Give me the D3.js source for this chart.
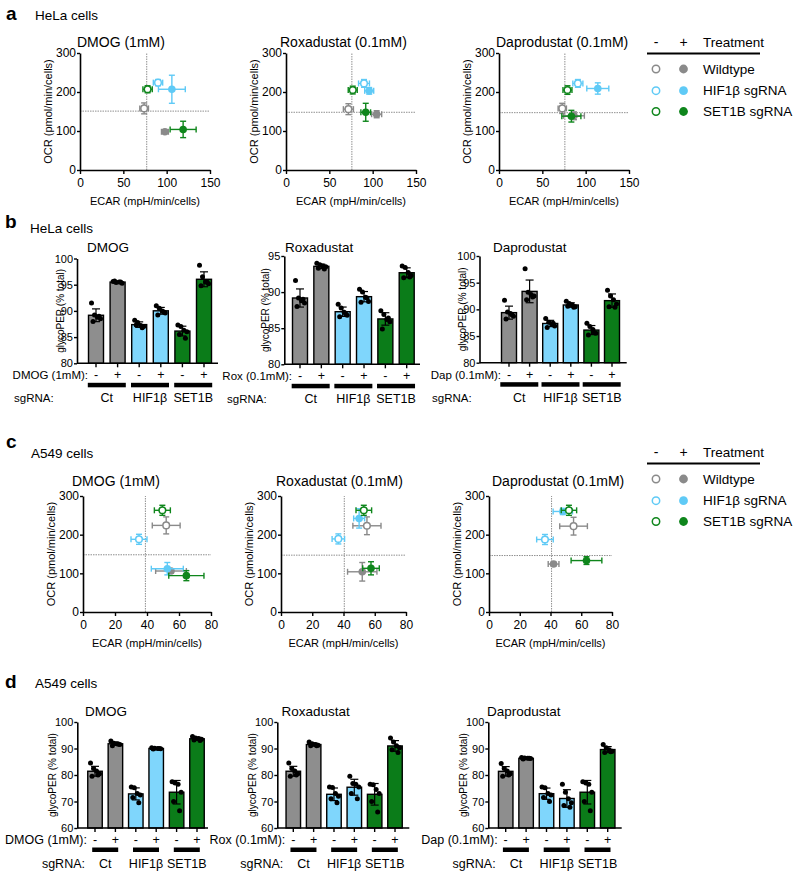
<!DOCTYPE html>
<html><head><meta charset="utf-8">
<script src="https://cdn.jsdelivr.net/npm/d3@7"></script>
<style>
body{margin:0;background:#fff;}
svg{font-family:"Liberation Sans",Arial,sans-serif;}
</style></head><body>
<svg id="fig" width="800" height="887"></svg>
<script>
// ================= DATA =================
// order of conditions in every array: WT -, WT +, HIF1β -, HIF1β +, SET1B -, SET1B +
const conditions = ["Wildtype -","Wildtype +","HIF1β -","HIF1β +","SET1B -","SET1B +"];
const legendLabels = ["Wildtype","HIF1β sgRNA","SET1B sgRNA"];
const scatterTitles = ["DMOG (1mM)","Roxadustat (0.1mM)","Daprodustat (0.1mM)"];
const barTitles = ["DMOG","Roxadustat","Daprodustat"];
const treatLabels = ["DMOG (1mM):","Rox (0.1mM):","Dap (0.1mM):"];
const sgRNALabels = ["Ct","HIF1β","SET1B"];
const signs = ["-","+","-","+","-","+"];
const ocrTicks = [0,100,200,300];
const helaEcarTicks = [0,50,100,150];
const a549EcarTicks = [0,20,40,60,80];

// ---- panel a: HeLa OCR vs ECAR ----
const aDMOG_ecar = [74, 98, 90, 106, 78, 119];
const aDMOG_ecarErr = [5, 4, 5.4, 15.5, 5.4, 15];
const aDMOG_ocr = [158, 98, 224, 207, 207, 104];
const aDMOG_ocrErr = [14, 4, 8, 36, 9, 21];
const aDMOG_ref = [77, 151];

const aRox_ecar = [72, 104.6, 90, 96, 77, 92];
const aRox_ecarErr = [5.8, 5.8, 6.3, 5.2, 5.2, 5.6];
const aRox_ocr = [156, 143, 222, 203, 205, 148];
const aRox_ocrErr = [14, 9, 10, 8.5, 10, 23];
const aRox_ref = [76, 148];

const aDap_ecar = [73, 86.5, 91, 114, 79, 83.5];
const aDap_ecarErr = [4.8, 12, 5.8, 12.7, 5.2, 11];
const aDap_ocr = [158, 139, 222, 209, 205, 138];
const aDap_ocrErr = [13, 10, 10, 14.5, 11, 15];
const aDap_ref = [76, 147];

// ---- panel c: A549 OCR vs ECAR ----
const cDMOG_ecar = [52, 55, 35, 52.7, 49.6, 64.6];
const cDMOG_ecarErr = [8.7, 9.6, 5, 10, 5, 11];
const cDMOG_ocr = [224, 106, 188, 112, 263, 94];
const cDMOG_ocrErr = [22, 5, 13, 16, 13, 13];
const cDMOG_ref = [39, 148];

const cRox_ecar = [55, 52, 36.7, 50, 53, 57.6];
const cRox_ecarErr = [9, 9.4, 4, 3.5, 5, 5.3];
const cRox_ocr = [223, 104, 189, 242, 263, 113];
const cRox_ocrErr = [23, 24, 13, 25, 13, 17];
const cRox_ref = [40.5, 147];

const cDap_ecar = [55, 42, 36.4, 48, 52, 63.4];
const cDap_ecarErr = [9, 3.5, 5.4, 6.3, 5, 10];
const cDap_ocr = [222, 124, 187.5, 260, 263, 133];
const cDap_ocrErr = [23, 5, 13, 8, 13, 10];
const cDap_ref = [40.7, 146];

// ---- panel b: HeLa glycoPER (% total), replicate dots per condition ----
const bDMOG_dots = [
  [91.5, 89.2, 88.8, 88.5, 88.0, 89.0],
  [95.6, 95.4, 95.5, 95.3, 95.7, 95.5],
  [88.2, 87.8, 87.2, 87.0, 87.3, 86.8],
  [91.0, 90.5, 90.0, 89.6, 89.2, 89.8],
  [87.3, 87.0, 86.3, 86.0, 85.5, 84.8],
  [98.7, 96.5, 95.5, 95.2, 94.8, 95.5]];
const bRox_dots = [
  [91.6, 89.2, 88.8, 88.5, 88.0, 89.0],
  [94.0, 93.8, 93.6, 93.5, 93.3, 93.2],
  [88.3, 87.8, 87.2, 86.8, 86.6, 87.0],
  [90.4, 90.0, 89.3, 88.7, 88.6, 89.2],
  [87.4, 86.9, 86.2, 85.9, 84.9, 86.4],
  [93.6, 93.4, 92.7, 92.3, 92.0, 92.1]];
const bDap_dots = [
  [91.7, 89.5, 89.2, 88.7, 88.2, 89.0],
  [97.6, 93.2, 92.8, 92.5, 91.8, 92.3],
  [88.3, 87.6, 87.3, 86.9, 86.6, 87.4],
  [91.5, 91.1, 90.8, 90.5, 90.6, 90.4],
  [87.4, 86.8, 86.2, 85.5, 85.2, 85.6],
  [93.6, 92.5, 91.8, 91.0, 90.5, 90.4]];
const bTicks100 = [80,85,90,95,100];
const bTicks95 = [80,85,90,95];

// ---- panel d: A549 glycoPER (% total) ----
const dDMOG_dots = [
  [84.5, 82.5, 81.5, 80.5, 79.5, 80.0],
  [92.8, 92.0, 91.8, 91.5, 91.0, 91.6],
  [75.5, 75.2, 73.0, 72.5, 71.5, 69.5],
  [90.3, 90.1, 90.0, 89.9, 89.8, 90.0],
  [77.5, 77.0, 76.5, 73.5, 70.0, 66.5],
  [94.5, 94.0, 93.8, 93.5, 93.2, 93.0]];
const dRox_dots = [
  [84.5, 82.5, 81.5, 80.5, 79.5, 80.0],
  [92.5, 91.8, 91.5, 91.2, 91.0, 91.0],
  [75.5, 75.3, 73.0, 72.0, 71.0, 69.5],
  [79.5, 76.8, 76.5, 75.5, 73.0, 71.0],
  [76.5, 76.3, 74.5, 73.0, 70.0, 66.0],
  [94.0, 92.5, 91.0, 90.3, 89.5, 88.5]];
const dDap_dots = [
  [84.3, 82.5, 81.5, 80.5, 79.5, 80.0],
  [86.6, 86.4, 86.3, 86.2, 86.0, 86.3],
  [75.5, 75.2, 73.0, 72.5, 71.5, 70.0],
  [76.5, 73.5, 71.0, 69.5, 68.5, 67.8],
  [77.5, 77.0, 76.5, 73.5, 70.0, 66.5],
  [91.5, 90.3, 89.5, 89.0, 88.5, 88.8]];
const dTicks = [60,70,80,90,100];

// ================= STYLE =================
const pointColors = ["#8a8a8a","#8a8a8a","#5fcaf6","#5fcaf6","#0f861c","#0f861c"];
const barColors = ["#8e8e8e","#8e8e8e","#7fd6fc","#7fd6fc","#0b7c19","#0b7c19"];
const filled = [false,true,false,true,false,true];
const FONT = '"Liberation Sans", Arial, sans-serif';

const svg = d3.select("#fig");

function txt(g, x, y, s, size, anchor="start", weight="normal", rot=0) {
  const t = g.append("text").attr("x", x).attr("y", y)
    .attr("font-size", size).attr("font-weight", weight)
    .attr("text-anchor", anchor).attr("dominant-baseline", "central")
    .attr("fill", "#000").text(s);
  if (rot) t.attr("transform", `rotate(${rot},${x},${y})`);
  return t;
}

function styleAxis(ax, fs) {
  ax.select(".domain").attr("stroke", "#000").attr("stroke-width", 1.6);
  ax.selectAll(".tick line").attr("stroke", "#000").attr("stroke-width", 1.4);
  ax.selectAll(".tick text").attr("font-size", fs).attr("font-family", FONT).attr("fill", "#000");
}

// ---------- scatter ----------
function scatter(o) {
  const g = svg.append("g");
  const x = d3.scaleLinear().domain([0, o.xMax]).range([o.x0, o.x1]);
  const y = d3.scaleLinear().domain([0, 300]).range([o.yb, o.yt]);
  // reference lines
  g.append("line").attr("x1", x(o.ref[0])).attr("x2", x(o.ref[0]))
    .attr("y1", y(0)).attr("y2", y(300))
    .attr("stroke", "#909090").attr("stroke-width", 1).attr("stroke-dasharray", "1.5,1");
  g.append("line").attr("x1", x(0)).attr("x2", x(o.xMax))
    .attr("y1", y(o.ref[1])).attr("y2", y(o.ref[1]))
    .attr("stroke", "#909090").attr("stroke-width", 1).attr("stroke-dasharray", "1.5,1");
  const ax = g.append("g").attr("transform", `translate(0,${o.yb})`)
    .call(d3.axisBottom(x).tickValues(o.xTicks).tickSize(4).tickSizeOuter(0).tickPadding(4));
  styleAxis(ax, 12);
  const ay = g.append("g").attr("transform", `translate(${o.x0},0)`)
    .call(d3.axisLeft(y).tickValues(ocrTicks).tickSize(3).tickSizeOuter(0).tickPadding(1));
  styleAxis(ay, 12);
  txt(g, o.titleX, o.titleY, o.title, 14);
  txt(g, (o.x0 + o.x1) / 2, o.yb + 31, "ECAR (mpH/min/cells)", 11, "middle");
  txt(g, o.x0 - 32, (o.yt + o.yb) / 2, "OCR (pmol/min/cells)", 11, "middle", "normal", -90);
  const cap = 3;
  d3.range(6).forEach(i => {
    const c = pointColors[i];
    const cx = x(o.ecar[i]), cy = y(o.ocr[i]);
    const xl = x(o.ecar[i] - o.ecarErr[i]), xr = x(o.ecar[i] + o.ecarErr[i]);
    const yt = y(o.ocr[i] + o.ocrErr[i]), yb = y(o.ocr[i] - o.ocrErr[i]);
    const eg = g.append("g").attr("stroke", c).attr("stroke-width", 1.4).attr("fill", "none");
    eg.append("line").attr("x1", xl).attr("x2", xr).attr("y1", cy).attr("y2", cy);
    eg.append("line").attr("x1", xl).attr("x2", xl).attr("y1", cy - cap).attr("y2", cy + cap);
    eg.append("line").attr("x1", xr).attr("x2", xr).attr("y1", cy - cap).attr("y2", cy + cap);
    eg.append("line").attr("x1", cx).attr("x2", cx).attr("y1", yt).attr("y2", yb);
    eg.append("line").attr("x1", cx - cap).attr("x2", cx + cap).attr("y1", yt).attr("y2", yt);
    eg.append("line").attr("x1", cx - cap).attr("x2", cx + cap).attr("y1", yb).attr("y2", yb);
    g.append("circle").attr("cx", cx).attr("cy", cy).attr("r", filled[i] ? 3.8 : 3.3)
      .attr("fill", filled[i] ? c : "#fff").attr("stroke", c).attr("stroke-width", filled[i] ? 0 : 1.5);
  });
}

// ---------- legend ----------
function legend(yh) {
  const g = svg.append("g");
  txt(g, 656, yh, "-", 14, "middle");
  txt(g, 683.5, yh, "+", 14, "middle");
  txt(g, 703, yh, "Treatment", 13.5);
  g.append("line").attr("x1", 647).attr("x2", 760).attr("y1", yh + 11.5).attr("y2", yh + 11.5)
    .attr("stroke", "#000").attr("stroke-width", 2);
  const rows = [yh + 27, yh + 48.7, yh + 69.5];
  legendLabels.forEach((lab, k) => {
    const c = pointColors[2 * k];
    g.append("circle").attr("cx", 656).attr("cy", rows[k]).attr("r", 3.7)
      .attr("fill", "#fff").attr("stroke", c).attr("stroke-width", 1.5);
    g.append("circle").attr("cx", 683.5).attr("cy", rows[k]).attr("r", 4.4).attr("fill", c);
    txt(g, 703, rows[k], lab, 13.5);
  });
}

// ---------- bars ----------
function bars(o) {
  const g = svg.append("g");
  const y = d3.scaleLinear().domain([o.yMin, o.yMax]).range([o.yb, o.yt]);
  const x = d3.scaleLinear().domain([0, 5]).range([o.first, o.last]);
  const bw = o.bw;
  const offs = [-4.5, -1.5, 1.5, 4.5, -3, 3];
  o.dots.forEach((vals, i) => {
    const m = d3.mean(vals), sd = d3.deviation(vals);
    g.append("rect").attr("x", x(i) - bw / 2).attr("y", y(m))
      .attr("width", bw).attr("height", o.yb - y(m))
      .attr("fill", barColors[i]).attr("stroke", "#000").attr("stroke-width", 1.4);
    const eg = g.append("g").attr("stroke", "#000").attr("stroke-width", 1.2);
    eg.append("line").attr("x1", x(i)).attr("x2", x(i)).attr("y1", y(m + sd)).attr("y2", y(m - sd));
    eg.append("line").attr("x1", x(i) - 4).attr("x2", x(i) + 4).attr("y1", y(m + sd)).attr("y2", y(m + sd));
    eg.append("line").attr("x1", x(i) - 4).attr("x2", x(i) + 4).attr("y1", y(m - sd)).attr("y2", y(m - sd));
    vals.forEach((v, j) => {
      g.append("circle").attr("cx", x(i) + offs[j]).attr("cy", y(v)).attr("r", 2.5).attr("fill", "#000");
    });
  });
  const ay = g.append("g").attr("transform", `translate(${o.x0},0)`)
    .call(d3.axisLeft(y).tickValues(o.ticks).tickSize(3).tickSizeOuter(0).tickPadding(1));
  styleAxis(ay, 11);
  g.append("line").attr("x1", o.x0).attr("x2", o.xEnd).attr("y1", o.yb).attr("y2", o.yb)
    .attr("stroke", "#000").attr("stroke-width", 1.6);
  d3.range(6).forEach(i => {
    g.append("line").attr("x1", x(i)).attr("x2", x(i)).attr("y1", o.yb).attr("y2", o.yb + 4)
      .attr("stroke", "#000").attr("stroke-width", 1.4);
    txt(g, x(i), o.yb + 12, signs[i], 12.5, "middle");
  });
  txt(g, o.titleX, o.titleY, o.title, 13.5);
  txt(g, o.ylabX, (o.yt + o.yb) / 2, "glycoPER (% total)", 10, "middle", "normal", -90);
  txt(g, o.first - 8, o.yb + 12, o.treat, o.rowFs, "end");
  if (o.sgStart != null) txt(g, o.sgStart, o.yb + 35, "sgRNA:", o.rowFs, "start");
  else txt(g, o.first - 10, o.yb + 36, "sgRNA:", o.rowFs, "end");
  [0, 1, 2].forEach(k => {
    const cx = (x(2 * k) + x(2 * k + 1)) / 2;
    g.append("rect").attr("x", cx - o.pairW / 2).attr("y", o.yb + 19.5).attr("width", o.pairW).attr("height", 4.5).attr("fill", "#000");
    txt(g, cx, o.yb + (o.sgStart != null ? 35 : 36), sgRNALabels[k], 12.5, "middle");
  });
}

// ================= LAYOUT =================
txt(svg, 6, 13, "a", 19, "start", "bold");
txt(svg, 35, 15, "HeLa cells", 13.5);
txt(svg, 5, 221, "b", 19, "start", "bold");
txt(svg, 30, 228, "HeLa cells", 13.5);
txt(svg, 6, 441, "c", 19, "start", "bold");
txt(svg, 31, 453, "A549 cells", 13.5);
txt(svg, 5, 681, "d", 19, "start", "bold");
txt(svg, 35, 683, "A549 cells", 13.5);

// panel a
scatter({x0: 80, x1: 210, yt: 53, yb: 170, xMax: 150, xTicks: helaEcarTicks, ecar: aDMOG_ecar, ecarErr: aDMOG_ecarErr, ocr: aDMOG_ocr, ocrErr: aDMOG_ocrErr, ref: aDMOG_ref, title: scatterTitles[0], titleX: 77, titleY: 42});
scatter({x0: 286, x1: 416, yt: 53, yb: 170, xMax: 150, xTicks: helaEcarTicks, ecar: aRox_ecar, ecarErr: aRox_ecarErr, ocr: aRox_ocr, ocrErr: aRox_ocrErr, ref: aRox_ref, title: scatterTitles[1], titleX: 280, titleY: 42});
scatter({x0: 499, x1: 629, yt: 53, yb: 170, xMax: 150, xTicks: helaEcarTicks, ecar: aDap_ecar, ecarErr: aDap_ecarErr, ocr: aDap_ocr, ocrErr: aDap_ocrErr, ref: aDap_ref, title: scatterTitles[2], titleX: 496, titleY: 42});
legend(42);

// panel b
bars({x0: 77, xEnd: 218, yt: 258.5, yb: 363.3, yMin: 80, yMax: 100, ticks: bTicks100, first: 96, last: 204, bw: 15, pairW: 38, dots: bDMOG_dots, title: barTitles[0], titleX: 87, titleY: 247, ylabX: 60.3, treat: treatLabels[0], rowFs: 11.5, sgStart: 14});
bars({x0: 284.3, xEnd: 420, yt: 256, yb: 364.3, yMin: 80, yMax: 95, ticks: bTicks95, first: 300, last: 406.7, bw: 15, pairW: 38, dots: bRox_dots, title: barTitles[1], titleX: 285, titleY: 247, ylabX: 266, treat: treatLabels[1], rowFs: 11.5, sgStart: 227});
bars({x0: 479.5, xEnd: 626.7, yt: 256, yb: 362.7, yMin: 80, yMax: 100, ticks: bTicks100, first: 509, last: 612, bw: 15, pairW: 38, dots: bDap_dots, title: barTitles[2], titleX: 493, titleY: 247, ylabX: 462.5, treat: treatLabels[2], rowFs: 11.5, sgStart: 432});

// panel c
scatter({x0: 83, x1: 211, yt: 496, yb: 612, xMax: 80, xTicks: a549EcarTicks, ecar: cDMOG_ecar, ecarErr: cDMOG_ecarErr, ocr: cDMOG_ocr, ocrErr: cDMOG_ocrErr, ref: cDMOG_ref, title: scatterTitles[0], titleX: 72, titleY: 481});
scatter({x0: 281, x1: 406, yt: 496, yb: 612, xMax: 80, xTicks: a549EcarTicks, ecar: cRox_ecar, ecarErr: cRox_ecarErr, ocr: cRox_ocr, ocrErr: cRox_ocrErr, ref: cRox_ref, title: scatterTitles[1], titleX: 276, titleY: 481});
scatter({x0: 489, x1: 612, yt: 496, yb: 612, xMax: 80, xTicks: a549EcarTicks, ecar: cDap_ecar, ecarErr: cDap_ecarErr, ocr: cDap_ocr, ocrErr: cDap_ocrErr, ref: cDap_ref, title: scatterTitles[2], titleX: 492, titleY: 481});
legend(452);

// panel d
bars({x0: 77.3, xEnd: 208, yt: 722, yb: 828, yMin: 60, yMax: 100, ticks: dTicks, first: 95, last: 197, bw: 14.5, pairW: 26, dots: dDMOG_dots, title: barTitles[0], titleX: 85, titleY: 711, ylabX: 52.3, treat: treatLabels[0], rowFs: 12.5});
bars({x0: 277.3, xEnd: 409.3, yt: 722, yb: 828, yMin: 60, yMax: 100, ticks: dTicks, first: 293.3, last: 395, bw: 14.5, pairW: 26, dots: dRox_dots, title: barTitles[1], titleX: 281.5, titleY: 711, ylabX: 252.3, treat: treatLabels[1], rowFs: 12.5});
bars({x0: 488.3, xEnd: 621.7, yt: 722, yb: 828, yMin: 60, yMax: 100, ticks: dTicks, first: 505.7, last: 607.7, bw: 14.5, pairW: 26, dots: dDap_dots, title: barTitles[2], titleX: 487, titleY: 711, ylabX: 463.3, treat: treatLabels[2], rowFs: 12.5});
</script>
</body></html>
